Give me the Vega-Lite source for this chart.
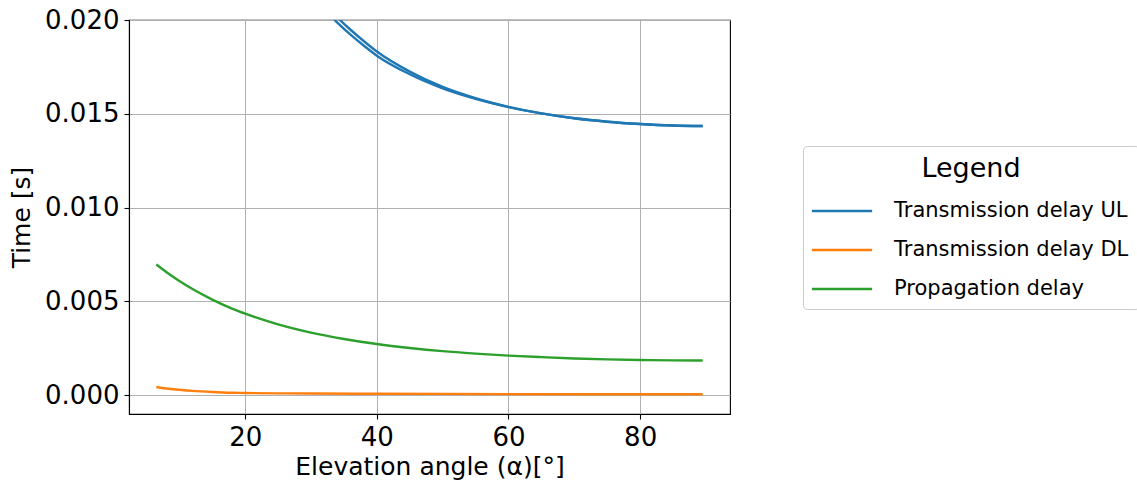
{
  "$schema": "https://vega.github.io/schema/vega-lite/v6.json",
  "width": 601,
  "height": 394,
  "autosize": {"type": "none"},
  "padding": {"left": 129, "top": 20, "right": 407, "bottom": 70},
  "background": "white",
  "config": {
    "font": "DejaVu Sans",
    "view": {"stroke": "black", "strokeWidth": 1.1},
    "axis": {
      "labelFont": "DejaVu Sans", "titleFont": "DejaVu Sans",
      "labelFontSize": 26, "titleFontSize": 25, "titleFontWeight": "normal",
      "labelColor": "black", "titleColor": "black",
      "domainColor": "black", "domainWidth": 1.1,
      "tickColor": "black", "tickSize": 5, "tickWidth": 1.1,
      "gridColor": "#b0b0b0", "gridWidth": 1, "gridOpacity": 1
    },
    "legend": {
      "labelFont": "DejaVu Sans", "titleFont": "DejaVu Sans"
    }
  },
  "data": {
    "values": [
      {"series": "Transmission delay UL", "branch": "a", "alpha": 6.5, "t": 0.06},
      {"series": "Transmission delay UL", "branch": "a", "alpha": 10, "t": 0.045},
      {"series": "Transmission delay UL", "branch": "a", "alpha": 15, "t": 0.034},
      {"series": "Transmission delay UL", "branch": "a", "alpha": 20, "t": 0.028},
      {"series": "Transmission delay UL", "branch": "a", "alpha": 25, "t": 0.024},
      {"series": "Transmission delay UL", "branch": "a", "alpha": 30, "t": 0.0218},
      {"series": "Transmission delay UL", "branch": "a", "alpha": 32, "t": 0.0209},
      {"series": "Transmission delay UL", "branch": "a", "alpha": 34, "t": 0.02014},
      {"series": "Transmission delay UL", "branch": "a", "alpha": 36, "t": 0.01948},
      {"series": "Transmission delay UL", "branch": "a", "alpha": 38, "t": 0.01888},
      {"series": "Transmission delay UL", "branch": "a", "alpha": 40, "t": 0.01832},
      {"series": "Transmission delay UL", "branch": "a", "alpha": 45, "t": 0.01725},
      {"series": "Transmission delay UL", "branch": "a", "alpha": 50, "t": 0.01643},
      {"series": "Transmission delay UL", "branch": "a", "alpha": 55, "t": 0.01583},
      {"series": "Transmission delay UL", "branch": "a", "alpha": 60, "t": 0.01537},
      {"series": "Transmission delay UL", "branch": "a", "alpha": 65, "t": 0.01502},
      {"series": "Transmission delay UL", "branch": "a", "alpha": 70, "t": 0.01476},
      {"series": "Transmission delay UL", "branch": "a", "alpha": 75, "t": 0.01458},
      {"series": "Transmission delay UL", "branch": "a", "alpha": 80, "t": 0.01446},
      {"series": "Transmission delay UL", "branch": "a", "alpha": 85, "t": 0.01438},
      {"series": "Transmission delay UL", "branch": "a", "alpha": 89.5, "t": 0.01435},
      {"series": "Transmission delay UL", "branch": "b", "alpha": 6.5, "t": 0.0597},
      {"series": "Transmission delay UL", "branch": "b", "alpha": 10, "t": 0.0447},
      {"series": "Transmission delay UL", "branch": "b", "alpha": 15, "t": 0.0337},
      {"series": "Transmission delay UL", "branch": "b", "alpha": 20, "t": 0.0277},
      {"series": "Transmission delay UL", "branch": "b", "alpha": 25, "t": 0.0237},
      {"series": "Transmission delay UL", "branch": "b", "alpha": 30, "t": 0.0215},
      {"series": "Transmission delay UL", "branch": "b", "alpha": 32, "t": 0.0206},
      {"series": "Transmission delay UL", "branch": "b", "alpha": 34, "t": 0.01986},
      {"series": "Transmission delay UL", "branch": "b", "alpha": 36, "t": 0.01922},
      {"series": "Transmission delay UL", "branch": "b", "alpha": 38, "t": 0.01864},
      {"series": "Transmission delay UL", "branch": "b", "alpha": 40, "t": 0.0181},
      {"series": "Transmission delay UL", "branch": "b", "alpha": 45, "t": 0.01711},
      {"series": "Transmission delay UL", "branch": "b", "alpha": 50, "t": 0.01636},
      {"series": "Transmission delay UL", "branch": "b", "alpha": 55, "t": 0.0158},
      {"series": "Transmission delay UL", "branch": "b", "alpha": 60, "t": 0.01536},
      {"series": "Transmission delay UL", "branch": "b", "alpha": 65, "t": 0.01502},
      {"series": "Transmission delay UL", "branch": "b", "alpha": 70, "t": 0.01476},
      {"series": "Transmission delay UL", "branch": "b", "alpha": 75, "t": 0.01458},
      {"series": "Transmission delay UL", "branch": "b", "alpha": 80, "t": 0.01446},
      {"series": "Transmission delay UL", "branch": "b", "alpha": 85, "t": 0.01438},
      {"series": "Transmission delay UL", "branch": "b", "alpha": 89.5, "t": 0.01435},
      {"series": "Transmission delay DL", "branch": "a", "alpha": 6.5, "t": 0.00044},
      {"series": "Transmission delay DL", "branch": "a", "alpha": 8, "t": 0.00036},
      {"series": "Transmission delay DL", "branch": "a", "alpha": 10, "t": 0.00029},
      {"series": "Transmission delay DL", "branch": "a", "alpha": 12, "t": 0.00023},
      {"series": "Transmission delay DL", "branch": "a", "alpha": 15, "t": 0.00017},
      {"series": "Transmission delay DL", "branch": "a", "alpha": 18, "t": 0.00013},
      {"series": "Transmission delay DL", "branch": "a", "alpha": 20, "t": 0.00012},
      {"series": "Transmission delay DL", "branch": "a", "alpha": 25, "t": 0.0001},
      {"series": "Transmission delay DL", "branch": "a", "alpha": 30, "t": 0.00009},
      {"series": "Transmission delay DL", "branch": "a", "alpha": 40, "t": 0.00008},
      {"series": "Transmission delay DL", "branch": "a", "alpha": 50, "t": 0.00007},
      {"series": "Transmission delay DL", "branch": "a", "alpha": 60, "t": 0.00006},
      {"series": "Transmission delay DL", "branch": "a", "alpha": 70, "t": 0.000055},
      {"series": "Transmission delay DL", "branch": "a", "alpha": 80, "t": 0.00005},
      {"series": "Transmission delay DL", "branch": "a", "alpha": 89.5, "t": 0.00005},
      {"series": "Propagation delay", "branch": "a", "alpha": 6.5, "t": 0.00697},
      {"series": "Propagation delay", "branch": "a", "alpha": 8, "t": 0.00657},
      {"series": "Propagation delay", "branch": "a", "alpha": 10, "t": 0.00609},
      {"series": "Propagation delay", "branch": "a", "alpha": 12, "t": 0.00566},
      {"series": "Propagation delay", "branch": "a", "alpha": 15, "t": 0.0051},
      {"series": "Propagation delay", "branch": "a", "alpha": 18, "t": 0.00462},
      {"series": "Propagation delay", "branch": "a", "alpha": 20, "t": 0.00435},
      {"series": "Propagation delay", "branch": "a", "alpha": 25, "t": 0.00378},
      {"series": "Propagation delay", "branch": "a", "alpha": 30, "t": 0.00334},
      {"series": "Propagation delay", "branch": "a", "alpha": 35, "t": 0.003},
      {"series": "Propagation delay", "branch": "a", "alpha": 40, "t": 0.00273},
      {"series": "Propagation delay", "branch": "a", "alpha": 45, "t": 0.00252},
      {"series": "Propagation delay", "branch": "a", "alpha": 50, "t": 0.00235},
      {"series": "Propagation delay", "branch": "a", "alpha": 55, "t": 0.00222},
      {"series": "Propagation delay", "branch": "a", "alpha": 60, "t": 0.00211},
      {"series": "Propagation delay", "branch": "a", "alpha": 65, "t": 0.00203},
      {"series": "Propagation delay", "branch": "a", "alpha": 70, "t": 0.00196},
      {"series": "Propagation delay", "branch": "a", "alpha": 75, "t": 0.00191},
      {"series": "Propagation delay", "branch": "a", "alpha": 80, "t": 0.00188},
      {"series": "Propagation delay", "branch": "a", "alpha": 85, "t": 0.00186},
      {"series": "Propagation delay", "branch": "a", "alpha": 89.5, "t": 0.00185}
    ]
  },
  "mark": {"type": "line", "clip": true, "strokeWidth": 2.4, "interpolate": "monotone"},
  "encoding": {
    "x": {
      "field": "alpha", "type": "quantitative",
      "scale": {"domain": [2.35, 93.65], "nice": false, "zero": false},
      "axis": {"values": [20, 40, 60, 80], "title": "Elevation angle (α)[°]", "labelPadding": 5, "titlePadding": 4, "grid": true}
    },
    "y": {
      "field": "t", "type": "quantitative",
      "scale": {"domain": [-0.001, 0.02], "nice": false, "zero": false},
      "axis": {"values": [0, 0.005, 0.01, 0.015, 0.02], "format": ".3f", "title": "Time [s]", "labelPadding": 5, "titlePadding": 10, "grid": true}
    },
    "color": {
      "field": "series", "type": "nominal",
      "scale": {"domain": ["Transmission delay UL", "Transmission delay DL", "Propagation delay"], "range": ["#1f77b4", "#ff7f0e", "#2ca02c"]},
      "legend": {
        "title": "Legend", "orient": "none", "legendX": 674, "legendY": 126,
        "titleFontSize": 27, "titleFontWeight": "normal", "titleColor": "black", "titleAnchor": "middle", "titlePadding": -1,
        "labelFontSize": 21, "labelColor": "black", "labelOffset": 23, "labelLimit": 0,
        "symbolType": "M-1.1,0H1.1", "symbolSize": 3000, "symbolStrokeWidth": 2.5,
        "rowPadding": 0, "padding": 10,
        "strokeColor": "#cccccc", "fillColor": "white", "cornerRadius": 4
      }
    },
    "detail": {"field": "branch", "type": "nominal"}
  }
}
